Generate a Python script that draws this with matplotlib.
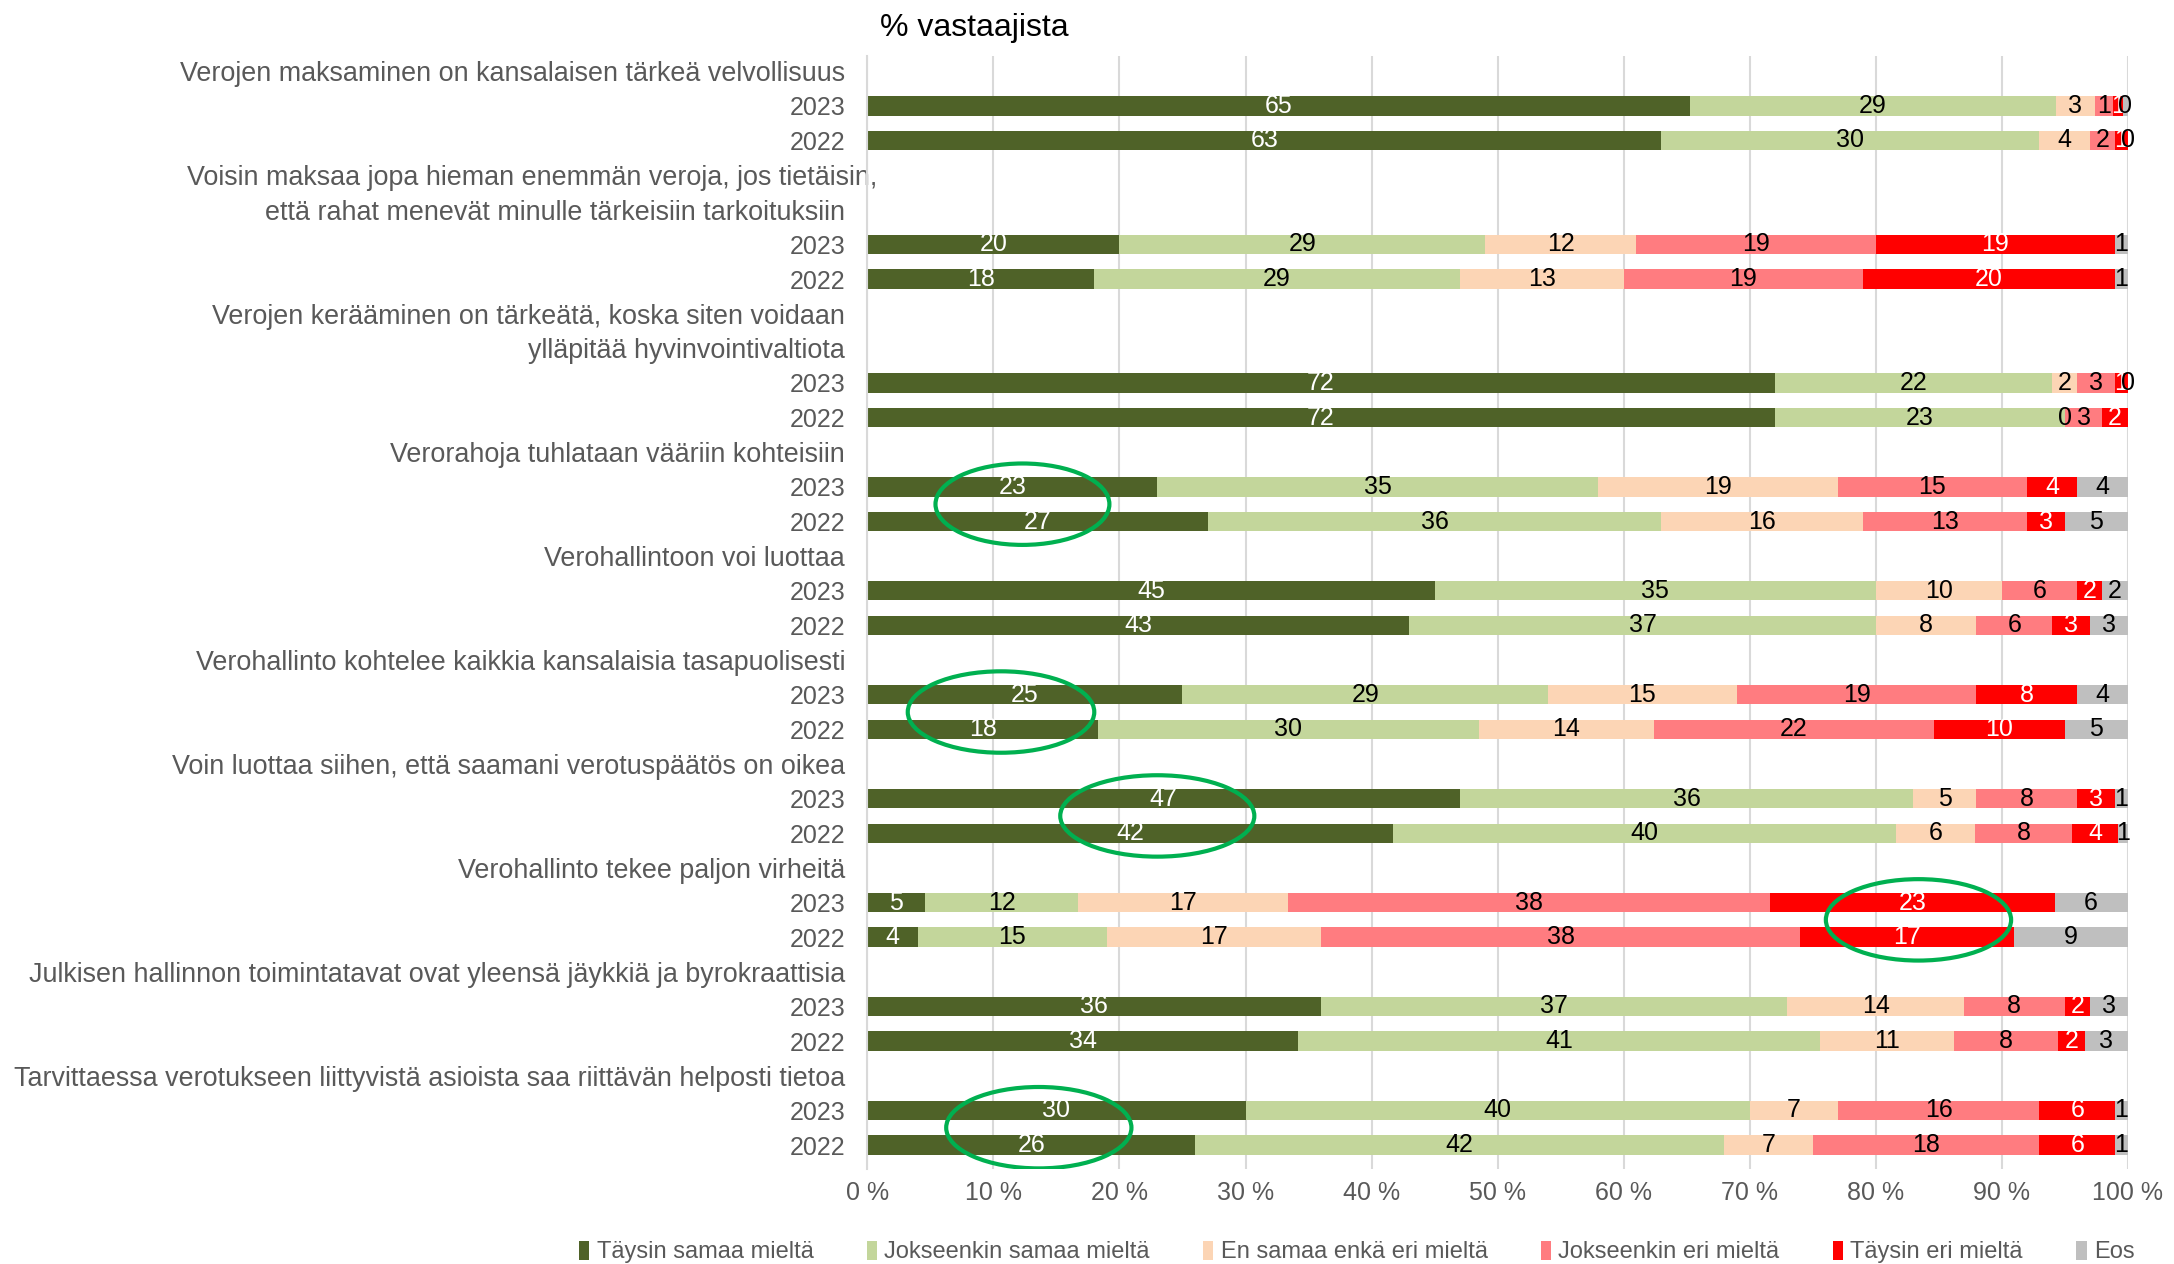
import numpy as np
import matplotlib
matplotlib.use("Agg")
import matplotlib.pyplot as plt
from matplotlib.patches import Ellipse, Patch
import matplotlib.transforms as mtransforms

plt.rcParams['font.family'] = ['Liberation Sans', 'DejaVu Sans']

# ---------------- data ----------------
question_lines = [
    ["Verojen maksaminen on kansalaisen tärkeä velvollisuus"],
    ["Voisin maksaa jopa hieman enemmän veroja, jos tietäisin,",
     "että rahat menevät minulle tärkeisiin tarkoituksiin"],
    ["Verojen kerääminen on tärkeätä, koska siten voidaan",
     "ylläpitää hyvinvointivaltiota"],
    ["Verorahoja tuhlataan vääriin kohteisiin"],
    ["Verohallintoon voi luottaa"],
    ["Verohallinto kohtelee kaikkia kansalaisia tasapuolisesti"],
    ["Voin luottaa siihen, että saamani verotuspäätös on oikea"],
    ["Verohallinto tekee paljon virheitä"],
    ["Julkisen hallinnon toimintatavat ovat yleensä jäykkiä ja byrokraattisia"],
    ["Tarvittaessa verotukseen liittyvistä asioista saa riittävän helposti tietoa"],
]
years = ["2023", "2022"]

series_names = ["Täysin samaa mieltä", "Jokseenkin samaa mieltä",
                "En samaa enkä eri mieltä", "Jokseenkin eri mieltä",
                "Täysin eri mieltä", "Eos"]

# order: Q1 2023, Q1 2022, Q2 2023, Q2 2022, ...
taysin_samaa = [65.3, 63, 20, 18, 72, 72, 23, 27, 45, 43, 25, 18.3, 47, 41.7, 4.6, 4, 36, 34.2, 30, 26]
jokseenkin_samaa = [29.0, 30, 29, 29, 22, 23, 35, 36, 35, 37, 29, 30.2, 36, 39.9, 12.1, 15, 37, 41.4, 40, 42]
en_samaa_enka_eri = [3.1, 4, 12, 13, 2, 0, 19, 16, 10, 8, 15, 13.9, 5, 6.3, 16.7, 17, 14, 10.6, 7, 7]
jokseenkin_eri = [1.4, 2, 19, 19, 3, 3, 15, 13, 6, 6, 19, 22.2, 8, 7.7, 38.2, 38, 8, 8.3, 16, 18]
taysin_eri = [0.8, 1, 19, 20, 1, 2, 4, 3, 2, 3, 8, 10.4, 3, 3.6, 22.6, 17, 2, 2.1, 6, 6]
eos = [0.4, 0, 1, 1, 0, np.nan, 4, 5, 2, 3, 4, 5.0, 1, 0.8, 5.8, 9, 3, 3.4, 1, 1]

x_ticks = [0, 10, 20, 30, 40, 50, 60, 70, 80, 90, 100]
x_tick_labels = [f"{t} %" for t in x_ticks]

# highlight ellipses: (question index, x centre %, width %)
highlights = [(3, 12.3, 13.8), (5, 10.6, 14.8), (6, 23.0, 15.4), (7, 83.4, 14.7), (9, 13.6, 14.7)]

colors = ["#4F6228", "#C3D69B", "#FCD5B5", "#FF7C80", "#FF0000", "#BFBFBF"]
label_colors = ["white", "black", "black", "black", "white", "black"]
text_gray = "#595959"

# ---------------- layout of slots ----------------
tick_pos, tick_labels, bar_pos, q_bar_pos = [], [], [], []
slot = 0
for lines in question_lines:
    for ln in lines:
        tick_pos.append(slot); tick_labels.append(ln); slot += 1
    ys = []
    for yr in years:
        tick_pos.append(slot); tick_labels.append(yr); bar_pos.append(slot); ys.append(slot); slot += 1
    q_bar_pos.append(ys)
n_slots = slot

fig = plt.figure(figsize=(21.74, 12.64), dpi=100)
ax = fig.add_axes([0.399, 0.0755, 0.5797, 0.8805])

data = [taysin_samaa, jokseenkin_samaa, en_samaa_enka_eri, jokseenkin_eri, taysin_eri, eos]
left = np.zeros(len(bar_pos))
for vals, col, lc, name in zip(data, colors, label_colors, series_names):
    v = np.array(vals, dtype=float)
    w = np.nan_to_num(v)
    bars = ax.barh(bar_pos, w, left=left, height=0.56, color=col, label=name, zorder=2)
    labs = ["" if np.isnan(x) else f"{x:.0f}" for x in v]
    ax.bar_label(bars, labels=labs, label_type='center', color=lc, fontsize=18, zorder=4)
    left += w

for qi, xc, wd in highlights:
    yc = np.mean(q_bar_pos[qi])
    ax.add_patch(Ellipse((xc, yc), wd, 2.35, fill=False, edgecolor="#00B050", lw=3, zorder=5))

ax.set_xlim(0, 100)
ax.set_ylim(n_slots - 1 + 0.68, -0.45)
ax.set_xticks(x_ticks)
ax.set_xticklabels(x_tick_labels)
ax.set_yticks(tick_pos)
ax.set_yticklabels(tick_labels)
ax.tick_params(axis='both', length=0, labelsize=18, labelcolor=text_gray)
ax.tick_params(axis='y', pad=16)
ax.tick_params(axis='x', pad=9)
ax.grid(axis='x', color="#D9D9D9", lw=1.5, zorder=0)
for s in ['top', 'right', 'bottom']:
    ax.spines[s].set_visible(False)
ax.spines['left'].set_color("#D9D9D9")
ax.spines['left'].set_linewidth(1.5)

for lab in ax.get_yticklabels():
    if lab.get_text() not in years:
        lab.set_fontsize(19.4)
    # first wrapped line of question 2 sits a little to the right
    if lab.get_text().startswith("Voisin maksaa"):
        lab.set_transform(lab.get_transform() + mtransforms.ScaledTranslation(32 / 100, 0, fig.dpi_scale_trans))

fig.text(0.405, 0.99, "% vastaajista", fontsize=23, ha='left', va='top', color='black')

handles = [Patch(facecolor=c, edgecolor='none') for c in colors]
fig.legend(handles, series_names, loc='center', bbox_to_anchor=(0.624, 0.0095), ncol=6,
           frameon=False, fontsize=17, labelcolor=text_gray, handlelength=0.45,
           handleheight=0.9, handletextpad=0.3, columnspacing=2.25)

fig.savefig("out.png", dpi=100)
